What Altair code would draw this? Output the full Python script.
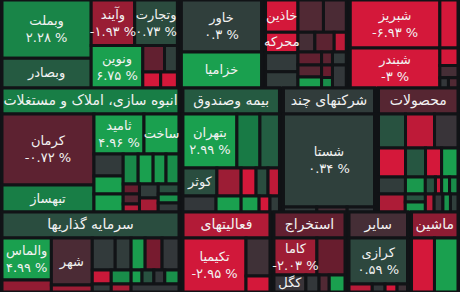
import altair as alt
import pandas as pd

W, H = 460, 292          # drawing area in px
HEAD = 26                # sector title strip height
PAD = 2                  # horizontal inset of each sector
BG = "#111316"
FONT = "DejaVu Sans"

# Tiles are (symbol, market value, % change); a list is a group whose
# children are laid side by side, then stacked, alternating with depth.
banks = [
    [("وبملت", 531, 2.28), ("وبصادر", 270, 1.2)],
    [
        [("وآیند", 202, -1.93), ("وتجارت", 198, 0.73)],
        [("ونوین", 224, 6.75),
         [[("", 59, -0.8), ("", 35, 0.3)],
          [("", 29, -3.2), ("", 27, -3.0)]]],
    ],
]
automotive = [[("خاور", 436, 0.3), ("خزامیا", 303, 3.5)]]
auto_parts = [
    [("خاذین", 110, -3.5), ("محرکه", 69, -3.0), ("", 65, 0.1), ("", 55, 0.2)],
    [
        [("", 86, -0.5), ("", 77, -0.4)],
        [("", 35, -0.3), ("", 40, -0.7), ("", 25, -2.6)],
        [[("", 32, -0.8), ("", 30, -0.6), ("", 27, 3.2)],
         [("", 15, -0.7), ("", 14, -0.9), ("", 12, 2.5)],
         [("", 19, 0.1), ("", 33, 0.0)]],
    ],
]
refinery = [
    [("شبریز", 445, -6.93), ("شبندر", 371, -3.0)],
    [("", 90, -3.5), ("", 33, -3.0), ("", 23, -0.3), [("", 9, 0.0), ("", 10, -0.5)]],
]
real_estate = [
    [("کرمان", 845, -0.72), ("تبهساز", 321, 2.1)],
    [
        [("ثامید", 259, 4.96), ("ساخت", 181, 3.2)],
        [
            [("", 83, 0.1), ("", 68, 3.0), ("", 68, 3.5)],
            [
                [("", 58, 2.4), ("", 58, 3.1), ("", 50, 2.8), ("", 50, 2.5)],
                [[("", 21, -0.9), ("", 21, -0.6), ("", 17, -2.5)],
                 [("", 34, 0.2), ("", 34, -2.2)],
                 [("", 27, 0.8), ("", 24, 2.6), ("", 24, 0.1)]],
            ],
        ],
    ],
]
insurance = [[
    [("بتهران", 384, 2.99), ("", 164, 2.0), ("", 139, 1.3)],
    [[
        [("کوثر", 125, 0.8), ("", 89, -2.0), ("", 55, -3.2), ("", 44, 0.8), ("", 42, -2.6)],
        [("", 70, 0.0), ("", 53, 3.3), ("", 38, 3.0), ("", 23, -3.0), ("", 20, 0.2)],
    ]],
]]
diversified = [[("شستا", 1118, 0.34), [("", 22, 0.1), ("", 20, -0.3), ("", 18, 0.0)]]]
chemicals = [[
    [("", 122, 1.0), ("", 131, -2.6), ("", 106, -0.1)],
    [("", 104, -3.2), ("", 77, 1.1), ("", 62, -3.0), ("", 63, 3.2)],
    [("", 61, 0.2), ("", 45, 2.8), ("", 23, 1.0), ("", 14, -2.8), ("", 18, 3.0), ("", 19, 2.5)],
    [("", 64, -2.3), [("", 21, 1.0), ("", 27, 2.8)], ("", 21, -2.5), ("", 21, 0.0),
     ("", 18, 2.7), ("", 18, 0.3)],
]]
investment = [
    [("والماس", 314, 4.99), ("", 89, -1.8)],
    [("شهر", 291, -0.4), ("", 43, -2.0)],
    [
        [("", 111, 0.1), ("", 77, 0.2), ("", 68, 2.9), ("", 82, -1.2), ("", 82, 0.0)],
        [("", 40, -2.8), ("", 42, 2.5), ("", 23, 3.0), ("", 25, 1.0), ("", 23, 0.0), ("", 30, 2.6)],
        [("", 23, 0.1), ("", 24, -2.2), ("", 58, 0.0)],
    ],
]
financial = [("تکیمیا", 526, -2.95), [("", 141, -0.2), ("", 59, -3.3)]]
mining = [[
    [("کاما", 248, -2.03), ("", 162, -0.9)],
    [("کگل", 85, -0.1), ("", 35, 0.0), ("", 27, -0.5), ("", 42, 3.0)],
]]
other_fin = [[("کرازی", 426, 0.59), [("", 29, -2.5), ("", 16, 0.0), ("", 15, -3.0), ("", 13, -0.2)]]]
machinery = [("", 199, -3.5), ("", 204, 3.2)]

# rows of (sector title, sector % change, tiles)
rows = [
    [(None, 0, banks), (None, 0, automotive), (None, 0, auto_parts), (None, 0, refinery)],
    [("انبوه سازی، املاک و مستغلات", 2.1, real_estate), ("بیمه وصندوق", 1.2, insurance),
     ("شرکتهای چند", 0.2, diversified), ("محصولات", -0.6, chemicals)],
    [("سرمایه گذاریها", 0.8, investment), ("فعالیتهای", -2.4, financial),
     ("استخراج", -0.8, mining), ("سایر", -0.3, other_fin), ("ماشین", -1.7, machinery)],
]

color_domain = [-3, -2, -1, 0, 1, 2, 3]
color_range = ["#d4183a", "#9c1d35", "#6e1a2d", "#33373a", "#285240", "#187a45", "#1aa04f"]

FA = str.maketrans("0123456789", "۰۱۲۳۴۵۶۷۸۹")


def fa_pct(v):
    return ("-" if v < 0 else "") + f"{abs(v):g}".translate(FA) + " %"


def weight(node):
    if isinstance(node, tuple):
        return node[1]
    return sum(weight(c) for c in node)


cells, names = [], []


def place(node, x0, x1, y0, y1, across):
    if isinstance(node, tuple):
        name, value, change = node
        cells.append(dict(x0=x0, x1=x1, y0=y0, y1=y1, change=change))
        if name:
            cx, cy = (x0 + x1) / 2, (y0 + y1) / 2
            roomy = (x1 - x0 - 3) >= 38.5 and (y1 - y0 - 3) >= 33.5
            if roomy:
                names.append(dict(x=cx, y=cy - 8, text=name))
                names.append(dict(x=cx, y=cy + 9, text=fa_pct(change)))
            else:
                names.append(dict(x=cx, y=cy, text=name))
        return
    total = weight(node)
    pos = x0 if across else y0
    for child in node:
        span = ((x1 - x0) if across else (y1 - y0)) * weight(child) / total
        if across:
            place(child, pos, pos + span, y0, y1, False)
        else:
            place(child, x0, x1, pos, pos + span, True)
        pos += span


titles = []
row_totals = [sum(weight(body) for _, _, body in row) for row in rows]
grand = sum(row_totals)
y = 0.0
for row, rt in zip(rows, row_totals):
    h = H * rt / grand
    x = 0.0
    for title, change, body in row:
        w = W * weight(body) / rt
        sx0, sx1 = x + PAD, x + w - PAD
        by0 = y
        if title:
            cells.append(dict(x0=sx0, x1=sx1, y0=y, y1=y + HEAD, change=change))
            titles.append(dict(x=(sx0 + sx1) / 2, y=y + HEAD / 2, text=title))
            by0 = y + HEAD
        place(body, sx0, sx1, by0, y + h, True)
        x += w
    y += h

cells_df = pd.DataFrame(cells)
names_df = pd.DataFrame(names)
titles_df = pd.DataFrame(titles)

xs = alt.Scale(domain=[0, W], nice=False, zero=False)
ys = alt.Scale(domain=[0, H], nice=False, zero=False, reverse=True)

rects = alt.Chart(cells_df).mark_rect(stroke=BG, strokeWidth=3).encode(
    x=alt.X("x0:Q", scale=xs, axis=None),
    x2="x1:Q",
    y=alt.Y("y0:Q", scale=ys, axis=None),
    y2="y1:Q",
    color=alt.Color("change:Q", legend=None,
                    scale=alt.Scale(domain=color_domain, range=color_range,
                                    interpolate="rgb", clamp=True)),
)

tile_text = alt.Chart(names_df).mark_text(
    font=FONT, fontSize=13, color="#f2f2f2", align="center", baseline="middle"
).encode(
    x=alt.X("x:Q", scale=xs, axis=None),
    y=alt.Y("y:Q", scale=ys, axis=None),
    text="text:N",
)

title_text = alt.Chart(titles_df).mark_text(
    font=FONT, fontSize=14, color="#f2f2f2", align="center", baseline="middle"
).encode(
    x=alt.X("x:Q", scale=xs, axis=None),
    y=alt.Y("y:Q", scale=ys, axis=None),
    text="text:N",
)

chart = (
    alt.layer(rects, tile_text, title_text)
    .properties(width=W, height=H, background=BG, padding=0, autosize="none")
    .configure_view(stroke=None)
)

chart.save("out.html", embed_options={"renderer": "svg", "actions": False})
